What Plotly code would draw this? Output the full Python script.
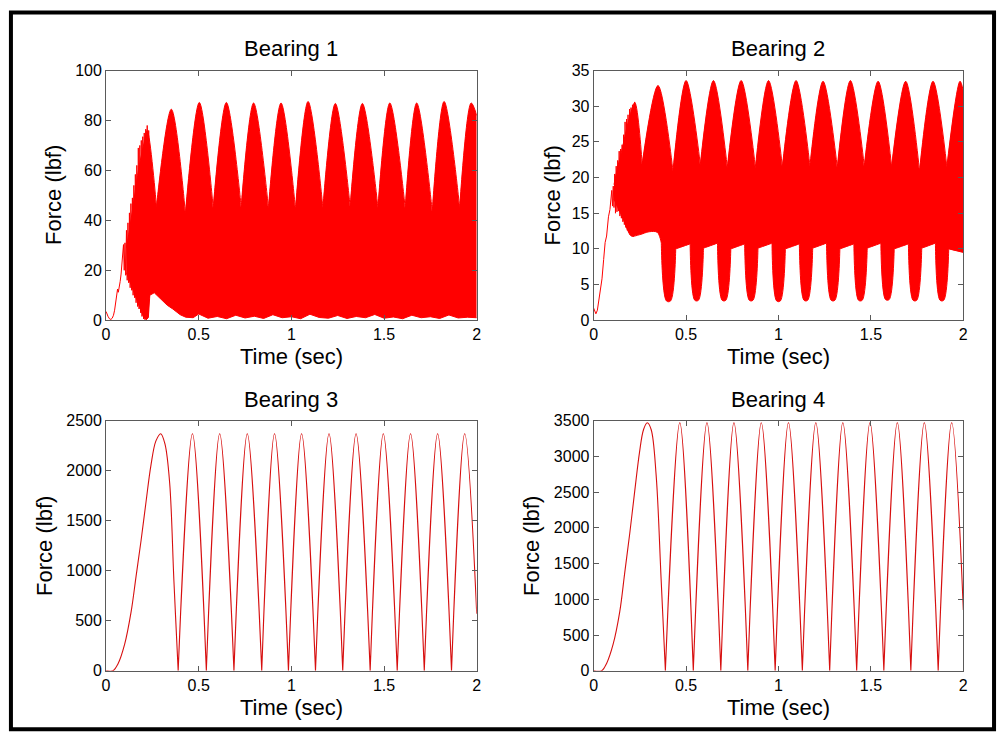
import plotly.graph_objects as go

W, H = 1004, 746
RED = "rgb(255,0,0)"
LINE_RED = "rgb(215,15,15)"
AX = "#5a5a5a"
FONT = "Liberation Sans, Arial, Helvetica, sans-serif"

TITLES = ["Bearing 1", "Bearing 2", "Bearing 3", "Bearing 4"]
X_LABEL = "Time (sec)"
Y_LABEL = "Force (lbf)"
X_TICKS = [0, 0.5, 1, 1.5, 2]
X_TICKTEXT = ["0", "0.5", "1", "1.5", "2"]
Y_RANGES = [[0, 100], [0, 35], [0, 2500], [0, 3500]]
Y_TICKS = [[0, 20, 40, 60, 80, 100],
           [0, 5, 10, 15, 20, 25, 30, 35],
           [0, 500, 1000, 1500, 2000, 2500],
           [0, 500, 1000, 1500, 2000, 2500, 3000, 3500]]

# ---------------- Bearing 1 ----------------
B1_EARLY_T = [0.000, 0.004, 0.010, 0.018, 0.026, 0.033, 0.040, 0.046, 0.052, 0.058, 0.062, 0.066,
              0.071, 0.076, 0.081, 0.086, 0.090, 0.094,
              0.098, 0.102, 0.106, 0.110, 0.114, 0.118, 0.122, 0.126, 0.130, 0.134, 0.138, 0.142,
              0.146, 0.150, 0.154, 0.158, 0.162, 0.166, 0.170, 0.174, 0.178, 0.182, 0.186, 0.190,
              0.194, 0.198, 0.202, 0.206, 0.210, 0.214, 0.218, 0.222, 0.226, 0.230, 0.234]
B1_EARLY_F = [3.5, 2.6, 1.6, 0.6, 0.3, 0.8, 2.0, 4.0, 6.8, 9.6, 12.5, 11.2,
              12.8, 15.5, 18.5, 22.0, 26.0, 30.3,
              20, 31, 18, 36, 16, 39, 15, 43, 13, 46.7, 12, 49,
              10, 54, 9, 58.4, 7, 62, 5.5, 69, 4.5, 70, 3, 72,
              1.5, 73.5, 0.5, 75, 0.2, 76.5, 0.3, 78, 1.5, 76, 9]
B1_LOW_T = [0.110, 0.130, 0.150, 0.170, 0.190, 0.205, 0.218, 0.228, 0.236,
            0.260, 0.300, 0.330, 0.360, 0.400, 0.430, 0.470,
            0.500, 0.550, 0.600, 0.650, 0.700, 0.750, 0.800, 0.850, 0.900, 0.950,
            1.000, 1.050, 1.100, 1.150, 1.200, 1.250, 1.300, 1.350, 1.400, 1.450,
            1.500, 1.550, 1.600, 1.650, 1.700, 1.750, 1.800, 1.850, 1.900, 1.950, 2.000]
B1_LOW_F = [19, 15, 11, 7, 3.5, 1.0, 0.3, 1.0, 10.0,
            11.0, 8.0, 6.0, 4.5, 2.2, 1.2, 1.0,
            2.5, 0.8, 1.5, 0.6, 2.0, 0.9, 1.6, 0.7, 2.2, 1.0,
            1.4, 0.6, 2.4, 1.1, 0.8, 1.9, 0.7, 1.5, 1.0, 2.3,
            0.8, 1.3, 0.6, 2.0, 1.0, 1.4, 0.7, 2.1, 0.9, 1.2, 1.0]
B1_UP_EARLY_T = [0.110, 0.130, 0.150, 0.170, 0.190, 0.205, 0.222]
B1_UP_EARLY_F = [29, 38, 48, 58, 66, 71, 76]
B1_TROUGH_T = [0.272, 0.428, 0.578, 0.729, 0.876, 1.022, 1.170, 1.317, 1.467, 1.614, 1.760, 1.908]
B1_TROUGH_F = [45.5, 42.7, 45.0, 45.3, 45.0, 44.5, 45.0, 45.5, 45.0, 45.0, 43.5, 45.0]
B1_PEAK_T = [0.352, 0.503, 0.649, 0.796, 0.944, 1.090, 1.237, 1.383, 1.531, 1.676, 1.824, 1.970]
B1_PEAK_F = [84.5, 87.2, 87.2, 87.0, 87.0, 87.6, 86.8, 86.8, 87.0, 87.0, 87.6, 87.0]
B1_END_T, B1_END_F = 2.0, 82.0

# ---------------- Bearing 2 ----------------
B2_EARLY_T = [0.000, 0.006, 0.012, 0.020, 0.027, 0.036, 0.045, 0.054, 0.062, 0.070, 0.080, 0.088, 0.094,
              0.098, 0.102, 0.106, 0.110, 0.114, 0.118, 0.122, 0.126, 0.130, 0.134, 0.138, 0.142,
              0.146, 0.150, 0.154, 0.158, 0.162, 0.166, 0.170, 0.174, 0.178, 0.182, 0.186, 0.190,
              0.194, 0.198, 0.202, 0.206, 0.210, 0.214, 0.218, 0.222, 0.226]
B2_EARLY_F = [1.7, 1.1, 0.9, 1.4, 2.5, 4.0, 5.8, 8.5, 10.9, 11.8, 14.5, 15.5, 17.0,
              18.2, 16.0, 18.8, 15.8, 20.5, 15.0, 21.6, 15.2, 22.4, 15.3, 23.7, 14.6,
              24.0, 14.3, 24.6, 13.8, 26.0, 13.4, 27.8, 13.0, 28.2, 12.6, 28.8, 12.3,
              29.6, 12.0, 29.8, 11.8, 30.2, 11.7, 30.4, 30.6, 13.5]
B2_LOW_EARLY_T = [0.110, 0.130, 0.160, 0.186, 0.204, 0.250, 0.300, 0.345]
B2_LOW_EARLY_F = [17.0, 15.8, 14.2, 12.5, 11.8, 12.0, 12.4, 12.3]
# lower-envelope pits: top-left edge, bottom-left, bottom-right, top-right edge
B2_PIT_L_T = [0.366, 0.522, 0.670, 0.817, 0.965, 1.113, 1.260, 1.408, 1.554, 1.703, 1.849]
B2_PIT_L_F = [10.8, 10.7, 10.8, 10.7, 10.8, 10.7, 10.8, 10.7, 10.8, 10.7, 10.8]
B2_PIT_A_T = [0.394, 0.547, 0.695, 0.842, 0.990, 1.138, 1.285, 1.433, 1.579, 1.728, 1.874]
B2_PIT_B_T = [0.416, 0.567, 0.715, 0.862, 1.010, 1.158, 1.305, 1.453, 1.599, 1.748, 1.894]
B2_PIT_F = [2.7, 2.8, 2.8, 2.8, 2.7, 2.8, 2.8, 2.8, 2.9, 2.8, 2.8]
B2_PIT_R_T = [0.444, 0.594, 0.742, 0.889, 1.037, 1.185, 1.332, 1.480, 1.626, 1.775, 1.921]
B2_PIT_R_F = [10.0, 10.1, 10.0, 10.1, 10.0, 10.1, 10.0, 10.1, 10.0, 10.1, 10.0]
B2_LOW_END_T, B2_LOW_END_F = 2.0, 9.5
B2_UP_EARLY_T = [0.110, 0.130, 0.150, 0.175, 0.200, 0.223]
B2_UP_EARLY_F = [19.0, 21.5, 23.5, 26.5, 29.0, 30.5]
B2_TROUGH_T = [0.2625, 0.429, 0.577, 0.723, 0.875, 1.021, 1.170, 1.318, 1.464, 1.612, 1.763, 1.911]
B2_TROUGH_F = [21.9, 20.9, 21.8, 21.4, 21.4, 21.5, 21.6, 21.4, 21.6, 21.5, 20.9, 21.5]
B2_PEAK_T = [0.348, 0.500, 0.648, 0.798, 0.946, 1.095, 1.241, 1.389, 1.539, 1.688, 1.836, 1.982]
B2_PEAK_F = [32.9, 33.6, 33.6, 33.6, 33.6, 33.6, 33.5, 33.6, 33.5, 33.5, 33.5, 33.5]
B2_END_T, B2_END_F = 2.0, 32.1

# ---------------- Bearing 3 ----------------
B3_RISE_T = [0.000, 0.037, 0.064, 0.100, 0.135, 0.162, 0.189, 0.216, 0.242, 0.269, 0.295, 0.318, 0.343, 0.366]
B3_RISE_F = [0, 0, 68, 264, 589, 947, 1305, 1695, 2054, 2298, 2370, 2265, 1880, 900]
B3_ZERO_T = [0.389, 0.541, 0.690, 0.840, 0.984, 1.130, 1.277, 1.425, 1.571, 1.717, 1.864]
B3_PEAK_T = [0.466, 0.613, 0.762, 0.909, 1.055, 1.203, 1.349, 1.496, 1.643, 1.789, 1.935]
B3_PEAK_F = [2370, 2370, 2370, 2370, 2370, 2370, 2370, 2370, 2370, 2370, 2370]
B3_END_T, B3_END_F = 2.0, 570

# ---------------- Bearing 4 ----------------
B4_RISE_T = [0.000, 0.043, 0.070, 0.105, 0.141, 0.168, 0.195, 0.222, 0.248, 0.270, 0.290, 0.311, 0.338, 0.365]
B4_RISE_F = [0, 0, 104, 369, 825, 1371, 1918, 2510, 3057, 3376, 3470, 3376, 2738, 1280]
B4_ZERO_T = [0.388, 0.539, 0.688, 0.834, 0.982, 1.129, 1.277, 1.423, 1.570, 1.716, 1.864]
B4_PEAK_T = [0.466, 0.613, 0.759, 0.907, 1.054, 1.202, 1.348, 1.495, 1.643, 1.789, 1.937]
B4_PEAK_F = [3470, 3470, 3470, 3470, 3470, 3470, 3470, 3470, 3470, 3470, 3470]
B4_END_T, B4_END_F = 2.0, 850


# Sequence builders: a repeated point gives the spline a sharp corner there.
def envelope(early_t, early_f, trough_t, trough_f, peak_t, peak_f, end_t, end_f):
    xs, ys = list(early_t), list(early_f)
    for tt, tf, pt, pf in zip(trough_t, trough_f, peak_t, peak_f):
        xs += [tt, tt, pt]
        ys += [tf, tf, pf]
    xs.append(end_t)
    ys.append(end_f)
    return xs, ys


def arches(rise_t, rise_f, zero_t, peak_t, peak_f, end_t, end_f):
    xs, ys = list(rise_t), list(rise_f)
    for z, p, f in zip(zero_t, peak_t, peak_f):
        xs += [z, z, p]
        ys += [0, 0, f]
    xs.append(end_t)
    ys.append(end_f)
    return xs, ys


def pits(early_t, early_f, lt, lf, at, bt, pf, rt, rf, end_t, end_f):
    xs, ys = list(early_t), list(early_f)
    for a, af, b1, b2, bf, c, cf in zip(lt, lf, at, bt, pf, rt, rf):
        xs += [a, a, b1, b2, c, c]
        ys += [af, af, bf, bf, cf, cf]
    xs.append(end_t)
    ys.append(end_f)
    return xs, ys


fig = go.Figure()

# Bearing 1
fig.add_trace(go.Scatter(x=B1_LOW_T, y=B1_LOW_F, mode="lines", line=dict(color=RED, width=1),
                         xaxis="x", yaxis="y", showlegend=False))
ux, uy = envelope(B1_UP_EARLY_T, B1_UP_EARLY_F, B1_TROUGH_T, B1_TROUGH_F, B1_PEAK_T, B1_PEAK_F,
                  B1_END_T, B1_END_F)
fig.add_trace(go.Scatter(x=ux, y=uy, mode="lines", line=dict(color=RED, width=1, shape="spline", smoothing=1),
                         fill="tonexty", fillcolor=RED, xaxis="x", yaxis="y", showlegend=False))
fig.add_trace(go.Scatter(x=B1_EARLY_T, y=B1_EARLY_F, mode="lines", line=dict(color=RED, width=1),
                         xaxis="x", yaxis="y", showlegend=False))

# Bearing 2
lx, ly = pits(B2_LOW_EARLY_T, B2_LOW_EARLY_F, B2_PIT_L_T, B2_PIT_L_F, B2_PIT_A_T, B2_PIT_B_T, B2_PIT_F,
              B2_PIT_R_T, B2_PIT_R_F, B2_LOW_END_T, B2_LOW_END_F)
fig.add_trace(go.Scatter(x=lx, y=ly, mode="lines", line=dict(color=RED, width=1, shape="spline", smoothing=1),
                         xaxis="x2", yaxis="y2", showlegend=False))
ux, uy = envelope(B2_UP_EARLY_T, B2_UP_EARLY_F, B2_TROUGH_T, B2_TROUGH_F, B2_PEAK_T, B2_PEAK_F,
                  B2_END_T, B2_END_F)
fig.add_trace(go.Scatter(x=ux, y=uy, mode="lines", line=dict(color=RED, width=1, shape="spline", smoothing=1),
                         fill="tonexty", fillcolor=RED, xaxis="x2", yaxis="y2", showlegend=False))
fig.add_trace(go.Scatter(x=B2_EARLY_T, y=B2_EARLY_F, mode="lines", line=dict(color=RED, width=1),
                         xaxis="x2", yaxis="y2", showlegend=False))

# Bearing 3
ax3, ay3 = arches(B3_RISE_T, B3_RISE_F, B3_ZERO_T, B3_PEAK_T, B3_PEAK_F, B3_END_T, B3_END_F)
fig.add_trace(go.Scatter(x=ax3, y=ay3, mode="lines",
                         line=dict(color=LINE_RED, width=1.1, shape="spline", smoothing=1),
                         xaxis="x3", yaxis="y3", showlegend=False))
# Bearing 4
ax4, ay4 = arches(B4_RISE_T, B4_RISE_F, B4_ZERO_T, B4_PEAK_T, B4_PEAK_F, B4_END_T, B4_END_F)
fig.add_trace(go.Scatter(x=ax4, y=ay4, mode="lines",
                         line=dict(color=LINE_RED, width=1.1, shape="spline", smoothing=1),
                         xaxis="x4", yaxis="y4", showlegend=False))

# ---------------- layout ----------------
XDOM = [[103 / W, 477 / W], [595 / W, 968 / W]]
YDOM = [[1 - 319.5 / H, 1 - 64 / H], [1 - 678.3 / H, 1 - 422.3 / H]]
panels = [(0, 0), (1, 0), (0, 1), (1, 1)]

layout = dict(width=W, height=H, margin=dict(l=0, r=0, t=0, b=0),
              paper_bgcolor="white", plot_bgcolor="white",
              font=dict(family=FONT, color="black"), showlegend=False)
annotations = []
for i, (cx, cy) in enumerate(panels):
    n = "" if i == 0 else str(i + 1)
    common = dict(showgrid=False, zeroline=False, showline=True, linecolor=AX, linewidth=1,
                  mirror="ticks", ticks="inside", ticklen=5, tickcolor=AX, tickwidth=1,
                  tickfont=dict(family=FONT, size=16, color="black"), fixedrange=True)
    layout["xaxis" + n] = dict(domain=XDOM[cx], anchor="y" + n, range=[0, 2],
                               tickmode="array", tickvals=X_TICKS, ticktext=X_TICKTEXT, **common)
    layout["yaxis" + n] = dict(domain=YDOM[cy], anchor="x" + n, range=Y_RANGES[i],
                               tickmode="array", tickvals=Y_TICKS[i], **common)
    xc = (XDOM[cx][0] + XDOM[cx][1]) / 2
    yc = (YDOM[cy][0] + YDOM[cy][1]) / 2
    title_y = [41.5, 401][cy]
    xlab_y = [357, 715.5][cy]
    ylab_x = [[50, 553], [41.5, 533]][cy][cx]
    annotations.append(dict(text=TITLES[i], x=xc, y=1 - title_y / H, xref="paper", yref="paper",
                            xanchor="center", yanchor="middle", showarrow=False,
                            font=dict(family=FONT, size=22, color="black")))
    annotations.append(dict(text=X_LABEL, x=xc, y=1 - xlab_y / H, xref="paper", yref="paper",
                            xanchor="center", yanchor="middle", showarrow=False,
                            font=dict(family=FONT, size=22, color="black")))
    annotations.append(dict(text=Y_LABEL, x=ylab_x / W, y=yc, xref="paper", yref="paper",
                            xanchor="center", yanchor="middle", showarrow=False, textangle=-90,
                            font=dict(family=FONT, size=22, color="black")))
layout["annotations"] = annotations
layout["shapes"] = [dict(type="rect", xref="paper", yref="paper",
                         x0=7 / W, x1=999 / W, y0=1 - 738 / H, y1=1 - 4.5 / H,
                         line=dict(color="black", width=4), fillcolor="rgba(0,0,0,0)")]
fig.update_layout(**layout)
fig.write_html("out.html", config={"displayModeBar": False},
               post_script="document.body.style.margin='0';document.body.style.overflow='hidden';")
